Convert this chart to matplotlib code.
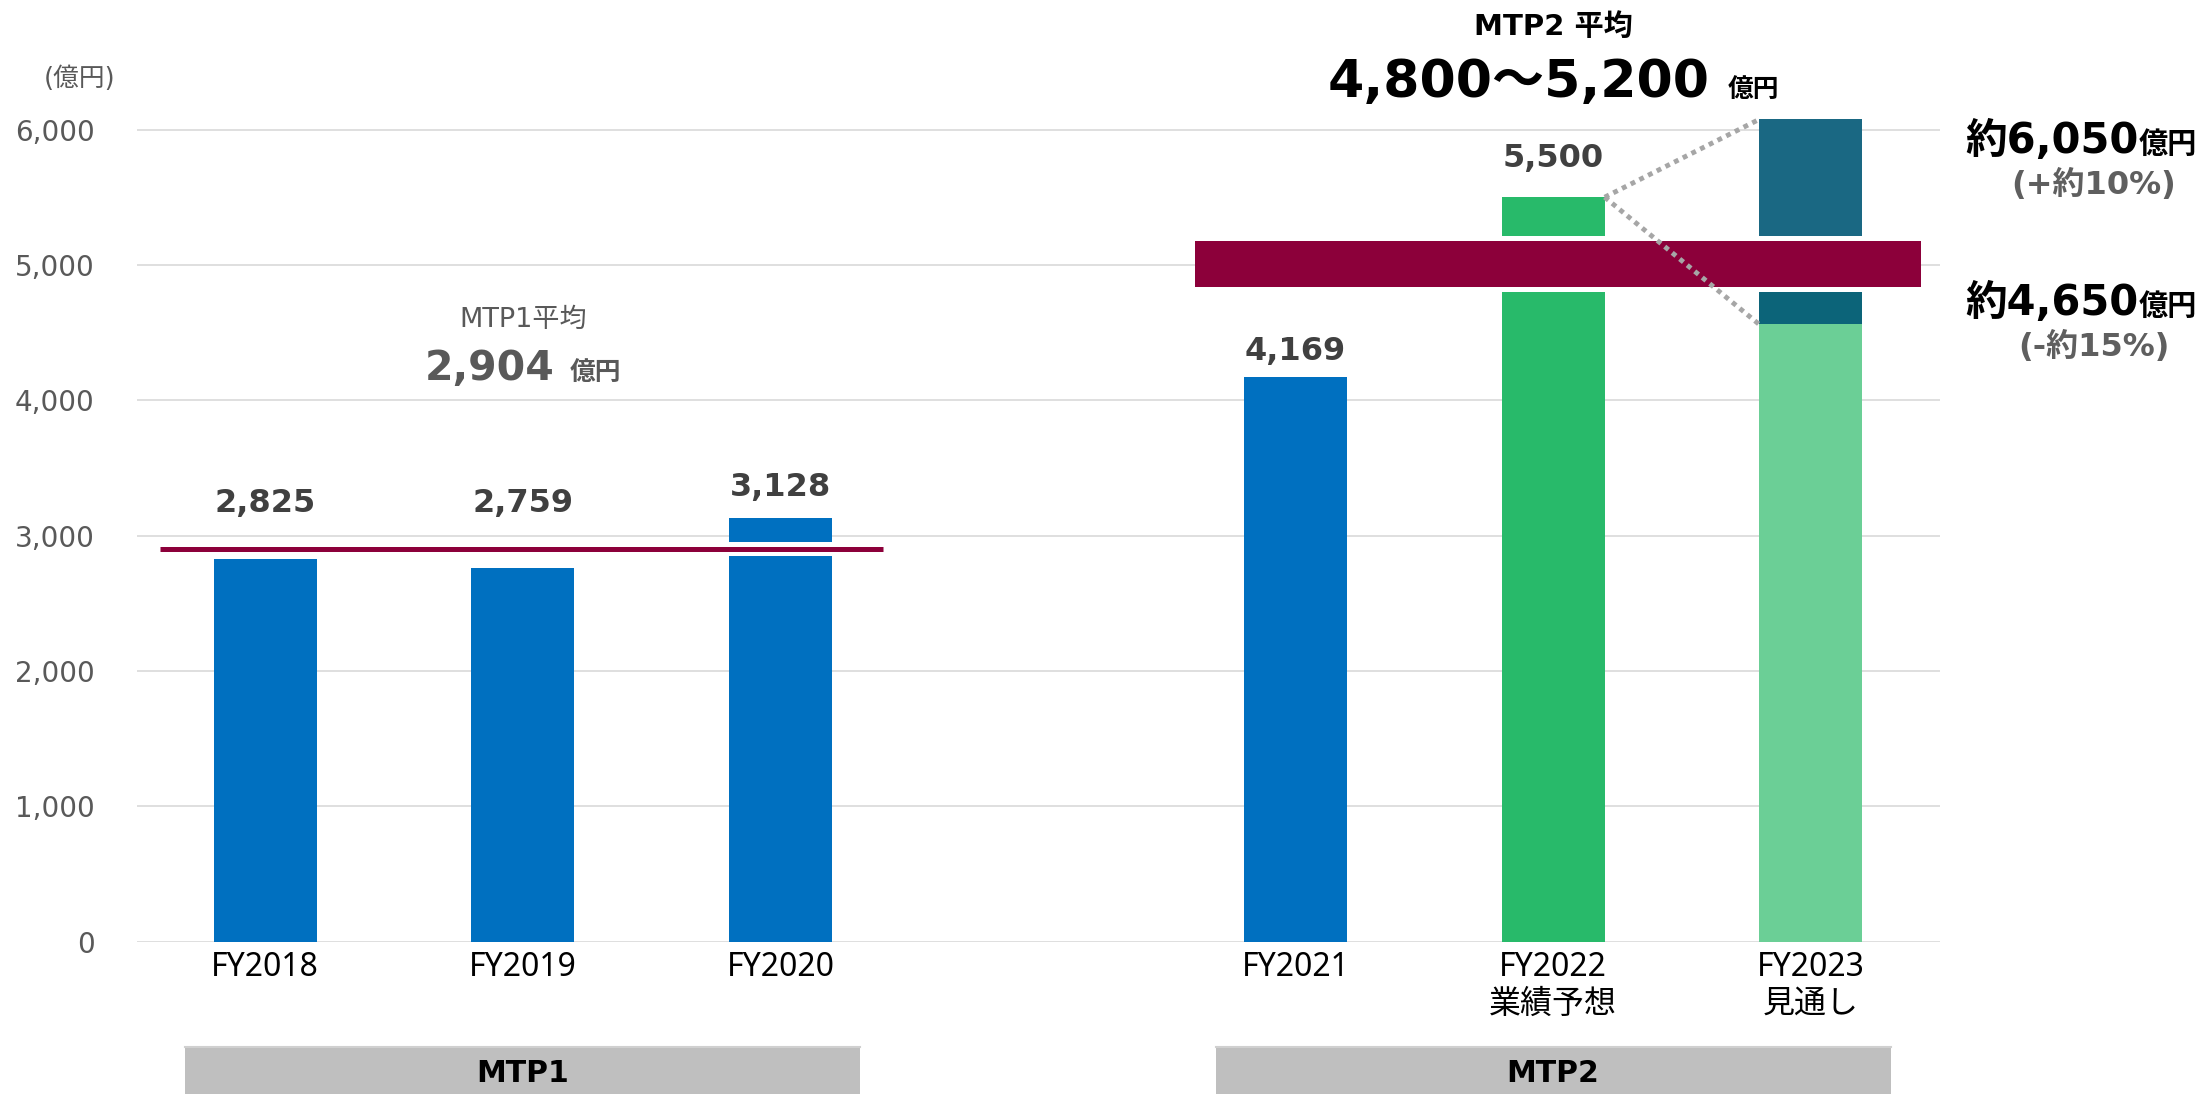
import matplotlib
matplotlib.use('Agg')
import matplotlib.pyplot as plt
from matplotlib.transforms import blended_transform_factory
from matplotlib.patches import Rectangle
from matplotlib.lines import Line2D

# Data
categories = ['FY2018', 'FY2019', 'FY2020', 'FY2021', 'FY2022', 'FY2023']
sub_labels = ['', '', '', '', '業績予想', '見通し']
sales = [2825, 2759, 3128, 4169, 5500]
sales_labels = ['2,825', '2,759', '3,128', '4,169', '5,500']
fy2023_low = 4560
fy2023_high = 6075
mtp1_avg = 2904
mtp2_low = 4800
mtp2_high = 5200
period_names = ['MTP1', 'MTP2']
yticks = [0, 1000, 2000, 3000, 4000, 5000, 6000]

# layout
x_pos = [0, 1, 2, 4, 5, 6]
period_centers = [1.0, 5.0]
label_base = [3176, 3176, 3294, 4297, 5725]
bar_w = 0.4

BLUE = '#0070C0'
GREEN = '#28BA6A'
LIGHT_GREEN = '#6BCF96'
TEAL_LOW = '#0C6479'
TEAL_HIGH = '#1A6883'
MAROON = '#8C003A'
GRID = '#D9D9D9'

VER = ['DejaVu Sans', 'Noto Sans CJK JP']
MEI = ['Noto Sans', 'Noto Sans CJK JP']

fig = plt.figure(figsize=(22.07, 10.94), dpi=100)
ax = fig.add_axes([136.5 / 2207, 152.4 / 1094, 1803 / 2207, 933.9 / 1094])
ax.set_xlim(-0.5, 6.5)
ax.set_ylim(0, 6900)

for s in ax.spines.values():
    s.set_visible(False)
ax.set_yticks(yticks)
ax.set_yticklabels([f'{v:,}' for v in yticks], family=VER, fontsize=20, color='#595959')
ax.tick_params(axis='y', length=0, pad=30)
ax.grid(axis='y', color=GRID, lw=1.2)
ax.set_axisbelow(True)

ax.set_xticks(x_pos)
ax.set_xticklabels([c if s == '' else c + '\n' + s for c, s in zip(categories, sub_labels)],
                   family=MEI, fontsize=23, color='black', linespacing=1.15)
ax.tick_params(axis='x', length=0, pad=7)

# bars
colors = [BLUE, BLUE, BLUE, BLUE, GREEN]
ax.bar(x_pos[:5], sales, width=bar_w, color=colors, zorder=2)
ax.bar(x_pos[5], fy2023_low, width=bar_w, color=LIGHT_GREEN, zorder=2)
ax.bar(x_pos[5], mtp2_low - fy2023_low, bottom=fy2023_low, width=bar_w, color=TEAL_LOW, zorder=2)
ax.bar(x_pos[5], fy2023_high - mtp2_low, bottom=mtp2_low, width=bar_w, color=TEAL_HIGH, zorder=2)

# MTP1 average line
ax.fill_between([-0.41, 2.40], mtp1_avg - 55, mtp1_avg + 50, color='white', lw=0, zorder=3)
ax.plot([-0.41, 2.40], [mtp1_avg, mtp1_avg], color=MAROON, lw=3.6, solid_capstyle='butt', zorder=4)

# MTP2 target band
ax.fill_between([3.61, 6.43], mtp2_low, mtp2_high + 10, color='white', lw=0, zorder=3)
ax.fill_between([3.61, 6.43], mtp2_low + 40, mtp2_high - 22, color=MAROON, lw=0, zorder=4)

# dotted connectors
x22 = x_pos[4] + bar_w / 2
x23 = x_pos[5] - bar_w / 2
for y_end in [fy2023_high, fy2023_low]:
    ax.plot([x22, x23], [sales[4], y_end], color='#A6A6A6', lw=3.5,
            linestyle=(0, (1, 1)), dash_capstyle='butt', zorder=5)

# data labels
for x, lab, yb in zip(x_pos[:5], sales_labels, label_base):
    ax.text(x, yb, lab, ha='center', va='baseline', family=VER, fontsize=23,
            fontweight='bold', color='#404040', zorder=6)

renderer = fig.canvas.get_renderer()


def two_part(x, y, big, small, big_size, small_size, color, gap_px, align='left'):
    t1 = ax.text(x, y, big, ha='left', va='baseline', family=VER, fontsize=big_size,
                 fontweight='bold', color=color, zorder=6)
    t2 = ax.text(x, y, small, ha='left', va='baseline', family=VER, fontsize=small_size,
                 fontweight='bold', color=color, zorder=6)
    b1 = t1.get_window_extent(renderer)
    b2 = t2.get_window_extent(renderer)
    x0_px = ax.transData.transform((x, y))[0]
    if align == 'center':
        x0_px = x0_px - (b1.width + gap_px + b2.width) / 2
    inv = ax.transData.inverted()
    t1.set_x(inv.transform((x0_px, 0))[0])
    t2.set_x(inv.transform((x0_px + b1.width + gap_px, 0))[0])


# MTP1 average annotation
ax.text(1.0, 4593, 'MTP1平均', ha='center', va='center', family=VER, fontsize=19.5,
        color='#595959')
two_part(1.0, 4150, '2,904', '億円', 29.5, 18.5, '#595959', 15, align='center')

# MTP2 average annotation
ax.text(5.0, 6757, 'MTP2 平均', ha='center', va='center', family=VER, fontsize=21,
        fontweight='bold', color='black', clip_on=False)
two_part(5.0, 6240, '4,800～5,200', '億円', 37.5, 18.5, 'black', 18, align='center')

# right side annotations
two_part(6.60, 5824, '約6,050', '億円', 30, 21, 'black', 0)
ax.text(7.10, 5590, '(+約10%)', ha='center', va='center', family=VER, fontsize=23,
        fontweight='bold', color='#5F5F5F')
two_part(6.60, 4629, '約4,650', '億円', 30, 21, 'black', 0)
ax.text(7.10, 4396, '(-約15%)', ha='center', va='center', family=VER, fontsize=23,
        fontweight='bold', color='#5F5F5F')

# unit label
fig.text(80 / 2207, 1 - 79 / 1094, '(億円)', ha='center', va='center', family=VER,
         fontsize=18.5, color='#595959')

# period boxes below the axis
trans = blended_transform_factory(ax.transData, fig.transFigure)
box_top = 47.3 / 1094
for c, name in zip(period_centers, period_names):
    ax.add_patch(Rectangle((c - 1.31, 0), 2.62, box_top, transform=trans,
                           facecolor='#BFBFBF', edgecolor='none', clip_on=False))
    ax.add_line(Line2D([c - 1.31, c + 1.31], [box_top, box_top], transform=trans,
                       color='#D0D0D0', lw=1.5, clip_on=False))
    ax.text(c, 20 / 1094, name, transform=trans, ha='center', va='center', family=VER,
            fontsize=21.5, fontweight='bold', color='black')

fig.savefig('out.png', dpi=100)
